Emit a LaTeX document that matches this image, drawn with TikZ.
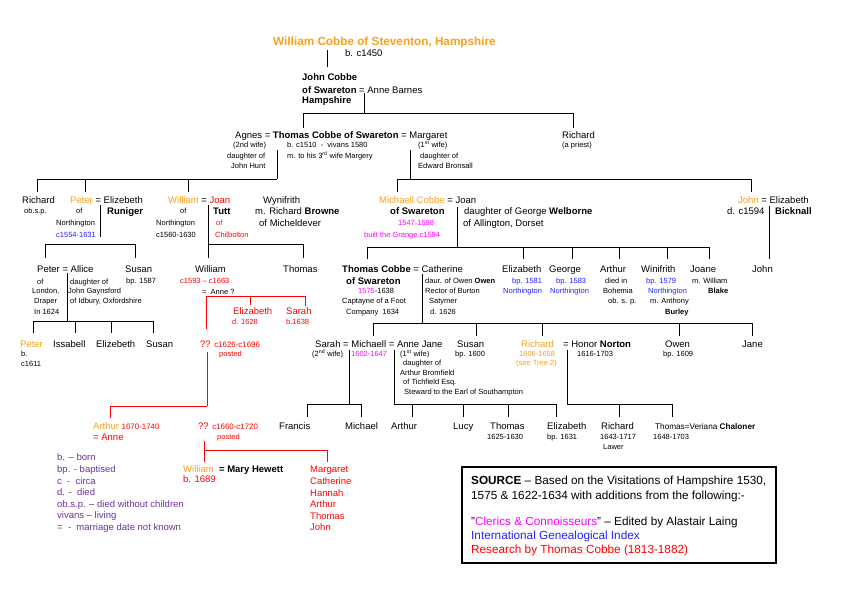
\documentclass[tikz,border=0pt]{standalone}
\usepackage{fontspec}
\setmainfont{Liberation Sans}
\definecolor{orng}{HTML}{F9A11B}
\definecolor{mag}{HTML}{FF00FF}
\definecolor{blu}{HTML}{2222FF}
\definecolor{rd}{HTML}{FF0000}
\definecolor{purp}{HTML}{7030A0}
\tikzset{
 mainT/.style={anchor=base west,inner sep=0pt,font=\fontsize{9.5}{11}\selectfont},
 smallT/.style={anchor=base west,inner sep=0pt,font=\fontsize{7.5}{9}\selectfont},
 srcT/.style={anchor=base west,inner sep=0pt,font=\fontsize{11.75}{13}\selectfont},
 ln/.style={line width=0.8pt,black},
 rln/.style={line width=0.8pt,rd}}
\newcommand\TxM[4]{\node[mainT] (#1) at (#2,#3+3.5) {#4};}
\newcommand\TxS[4]{\node[smallT] (#1) at (#2,#3+2.7) {#4};}
\newcommand\TxR[4]{\node[srcT] (#1) at (#2,#3+4.2) {#4};}
\newcommand\Ln[4][ln]{\coordinate (#2a) at (#3);\coordinate (#2b) at (#4);\draw[#1] (#2a) -- (#2b);}
\newcommand\yrs{\fontsize{7.9}{9}\selectfont}
\begin{document}
\begin{tikzpicture}[x=1pt,y=-1pt]
\fill[white] (0,0) rectangle (842,595);
\useasboundingbox (0,0) rectangle (842,595);
% ---------- top
\node[anchor=base west,inner sep=0pt,font=\fontsize{11.75}{13}\selectfont\bfseries,text=orng] (title) at (273,45.2) {William Cobbe of Steventon, Hampshire};
\TxM{b1450}{345}{53}{b. c1450}
\TxM{jc1}{302}{77}{\bfseries John Cobbe}
\TxM{jc2}{302}{90}{\textbf{of Swareton} = Anne Barnes}
\TxM{jc3}{302}{100}{\bfseries Hampshire}
% ---------- row 2
\TxM{r2}{235}{135}{Agnes = \textbf{Thomas Cobbe of Swareton} = Margaret}
\TxS{ag1}{233}{145}{(2nd wife)}
\TxS{ag2}{227}{156}{daughter of}
\TxS{ag3}{231}{166}{John Hunt}
\TxS{th1}{287}{145}{b. c1510 \ - \ vivans 1580}
\TxS{th2}{287}{156}{m. to his 3\textsuperscript{rd} wife Margery}
\TxS{mg1}{418}{145}{(1\textsuperscript{st} wife)}
\TxS{mg2}{420}{156}{daughter of}
\TxS{mg3}{418}{166}{Edward Bronsall}
\TxM{rp1}{562}{135}{Richard}
\TxS{rp2}{562}{145}{(a priest)}
% ---------- row 3
\TxM{ri1}{22}{200}{Richard}
\TxS{ri2}{24}{211}{ob.s.p.}
\TxM{pe1}{70}{200}{\textcolor{orng}{Peter} = Elizebeth}
\TxS{pe2}{76}{211}{of}
\TxS{pe3}{56}{223}{Northington}
\TxS{pe4}{56}{235}{\textcolor{blu}{c1554-1631}}
\TxM{pe5}{107}{211}{\bfseries Runiger}
\TxM{wi1}{168}{200}{\textcolor{orng}{William} = \textcolor{rd}{Joan}}
\TxS{wi2}{180}{211}{of}
\TxS{wi3}{156}{223}{Northington}
\TxS{wi4}{156}{235}{c1560-1630}
\TxM{wi5}{213}{211}{\bfseries Tutt}
\TxS{wi6}{216}{223}{\textcolor{rd}{of}}
\TxS{wi7}{215}{235}{\textcolor{rd}{Chilbolton}}
\TxM{wy1}{263}{200}{Wynifrith}
\TxM{wy2}{255}{211}{m. Richard \textbf{Browne}}
\TxM{wy3}{259}{223}{of Micheldever}
\TxM{mi1}{379}{200}{\textcolor{orng}{Michaell Cobbe} = Joan}
\TxM{mi2}{390}{211}{\bfseries of Swareton}
\TxS{mi3}{398}{223}{\textcolor{mag}{1547-1598}}
\TxS{mi4}{364}{235}{\textcolor{mag}{built the Grange c1594}}
\TxM{jw1}{464}{211}{daughter of George \textbf{Welborne}}
\TxM{jw2}{463}{223}{of Allington, Dorset}
\TxM{jo1}{738}{200}{\textcolor{orng}{John} = Elizabeth}
\TxM{jo2}{727}{211}{d. c1594}
\TxM{jo3}{775}{211}{\bfseries Bicknall}
% ---------- row 4
\TxM{pa1}{37}{269}{Peter = Allice}
\TxS{pa2}{37}{282}{of}
\TxS{pa3}{32}{291}{London,}
\TxS{pa4}{34}{301}{Draper}
\TxS{pa5}{34}{312}{In 1624}
\TxS{pa6}{70}{282}{daughter of}
\TxS{pa7}{68}{291}{John Gaynsford}
\TxS{pa8}{70}{301}{of Idbury, Oxfordshire}
\TxM{su1}{125}{269}{Susan}
\TxS{su2}{126}{281}{bp. 1587}
\TxM{wa1}{195}{269}{William}
\TxS{wa2}{180}{281}{\textcolor{rd}{c1593 – c1663}}
\TxS{wa3}{202}{292}{= \ Anne ?}
\TxM{th3}{283}{269}{Thomas}
\TxM{el1}{233}{311}{\textcolor{rd}{Elizabeth}}
\TxS{el2}{232}{322}{\textcolor{rd}{d. 1628}}
\TxM{sa1}{286}{311}{\textcolor{rd}{Sarah}}
\TxS{sa2}{286}{322}{\textcolor{rd}{b.1638}}
\TxM{tc1}{342}{269}{\textbf{Thomas Cobbe} = Catherine}
\TxM{tc2}{346}{281}{\bfseries of Swareton}
\TxS{tc3}{358}{291}{\textcolor{mag}{1575}-1638}
\TxS{tc4}{342}{301}{Captayne of a Foot}
\TxS{tc5}{346}{312}{Company \ 1634}
\TxS{ca1}{425}{281}{daur. of Owen \textbf{Owen}}
\TxS{ca2}{425}{291}{Rector of Burton}
\TxS{ca3}{429}{301}{Satymer}
\TxS{ca4}{430}{312}{d. 1626}
\TxM{e81}{502}{269}{Elizabeth}
\TxS{e82}{512}{281}{\textcolor{blu}{bp. 1581}}
\TxS{e83}{503}{291}{\textcolor{blu}{Northington}}
\TxM{ge1}{549}{269}{George}
\TxS{ge2}{556}{281}{\textcolor{blu}{bp. 1583}}
\TxS{ge3}{550}{291}{\textcolor{blu}{Northington}}
\TxM{ar1}{600}{269}{Arthur}
\TxS{ar2}{605}{281}{died in}
\TxS{ar3}{603}{291}{Bohemia}
\TxS{ar4}{608}{301}{ob. s. p.}
\TxM{wn1}{641}{269}{Winifrith}
\TxS{wn2}{646}{281}{\textcolor{blu}{bp. 1579}}
\TxS{wn3}{648}{291}{\textcolor{blu}{Northington}}
\TxS{wn4}{650}{301}{m. Anthony}
\TxS{wn5}{665}{312}{\bfseries Burley}
\TxM{jn1}{690}{269}{Joane}
\TxS{jn2}{692}{281}{m. William}
\TxS{jn3}{708}{291}{\bfseries Blake}
\TxM{jh1}{752}{269}{John}
% ---------- row 5
\TxM{pt1}{20}{344}{\textcolor{orng}{Peter}}
\TxS{pt2}{21}{354}{b.}
\TxS{pt3}{21}{364}{c1611}
\TxM{is1}{53}{344}{Issabell}
\TxM{ez1}{96}{344}{Elizebeth}
\TxM{sn1}{146}{344}{Susan}
\TxM{qq1}{200}{344}{\color{rd}?? {\yrs c1626-c1696}}
\TxS{qq2}{219}{354}{\textcolor{rd}{posted}}
\TxM{sm1}{315}{344}{Sarah = Michaell = Anne Jane}
\TxS{sm2}{312}{354}{(2\textsuperscript{nd} wife)}
\TxS{sm3}{351}{354}{\textcolor{mag}{1602-1647}}
\TxS{aj1}{400}{354}{(1\textsuperscript{st} wife)}
\TxS{aj2}{403}{363}{daughter of}
\TxS{aj3}{400}{373}{Arthur Bromfield}
\TxS{aj4}{403}{382}{of Tichfield Esq.}
\TxS{aj5}{404}{392}{Steward to the Earl of Southampton}
\TxM{sb1}{457}{344}{Susan}
\TxS{sb2}{455}{354}{bp. 1600}
\TxM{rc1}{521}{344}{\textcolor{orng}{Richard}}
\TxS{rc2}{519}{354}{\textcolor{orng}{1606-1658}}
\TxS{rc3}{516}{363}{\textcolor{orng}{(see Tree 2)}}
\TxM{hn1}{563}{344}{= Honor \textbf{Norton}}
\TxS{hn2}{577}{354}{1616-1703}
\TxM{ow1}{665}{344}{Owen}
\TxS{ow2}{663}{354}{bp. 1609}
\TxM{ja1}{742}{344}{Jane}
% ---------- row 6
\TxM{at1}{93}{426}{\textcolor{orng}{Arthur} \textcolor{rd}{\yrs 1670-1740}}
\TxM{at2}{93}{437}{\textcolor{rd}{= Anne}}
\TxM{qb1}{198}{426}{\color{rd}?? {\yrs c1660-c1720}}
\TxS{qb2}{217}{437}{\textcolor{rd}{posted}}
\TxM{fr1}{279}{426}{Francis}
\TxM{mc1}{345}{426}{Michael}
\TxM{ab1}{391}{426}{Arthur}
\TxM{lu1}{453}{426}{Lucy}
\TxM{tt1}{490}{426}{Thomas}
\TxS{tt2}{487}{437}{1625-1630}
\TxM{eb1}{547}{426}{Elizabeth}
\TxS{eb2}{547}{437}{bp. 1631}
\TxM{rr1}{601}{426}{Richard}
\TxS{rr2}{600}{437}{1643-1717}
\TxS{rr3}{603}{447}{Lawer}
\TxM{tv1}{655}{426}{\fontsize{8.2}{10}\selectfont Thomas=Veriana \textbf{Chaloner}}
\TxS{tv2}{653}{437}{1648-1703}
% ---------- row 7
\TxM{wm1}{183}{469}{\textcolor{orng}{William} \ \textbf{= Mary Hewett}}
\TxM{wm2}{183}{479}{\textcolor{rd}{b. 1689}}
\TxM{rl1}{310}{469}{\textcolor{rd}{Margaret}}
\TxM{rl2}{310}{481}{\textcolor{rd}{Catherine}}
\TxM{rl3}{310}{493}{\textcolor{rd}{Hannah}}
\TxM{rl4}{310}{504}{\textcolor{rd}{Arthur}}
\TxM{rl5}{310}{516}{\textcolor{rd}{Thomas}}
\TxM{rl6}{310}{527}{\textcolor{rd}{John}}
% ---------- legend
\TxM{lg1}{57}{457}{\textcolor{purp}{b. – born}}
\TxM{lg2}{57}{469}{\textcolor{purp}{bp. - baptised}}
\TxM{lg3}{57}{481}{\textcolor{purp}{c \ - \ circa}}
\TxM{lg4}{57}{492}{\textcolor{purp}{d. - \ died}}
\TxM{lg5}{57}{504}{\textcolor{purp}{ob.s.p. – died without children}}
\TxM{lg6}{57}{515}{\textcolor{purp}{vivans – living}}
\TxM{lg7}{57}{527}{\textcolor{purp}{= \ - \ marriage date not known}}
% ---------- source box
\coordinate (boxa) at (462,467);
\coordinate (boxb) at (776,563);
\draw[line width=1.3pt] (boxa) rectangle (boxb);
\TxR{sr1}{471}{480}{\textbf{SOURCE} – Based on the Visitations of Hampshire 1530,}
\TxR{sr2}{471}{495}{1575 \& 1622-1634 with additions from the following:-}
\TxR{sr3}{471}{521}{"\textcolor{mag}{Clerics \& Connoisseurs}" – Edited by Alastair Laing}
\TxR{sr4}{471}{535}{\textcolor{blu}{International Genealogical Index}}
\TxR{sr5}{471}{549}{\textcolor{rd}{Research by Thomas Cobbe (1813-1882)}}
% ---------- black lines
\Ln{l1}{327,50}{327,67}
\Ln{l2}{364,93}{364,113}
\Ln{l3}{303,113}{573,113}
\Ln{l4}{303,113}{303,128}
\Ln{l5}{573,113}{573,128}
\Ln{l6}{277,150}{277,179}
\Ln{l7}{37,179}{277,179}
\Ln{l8}{37,179}{37,192}
\Ln{l9}{85,179}{85,192}
\Ln{l10}{188,179}{188,192}
\Ln{l11}{410,150}{410,179}
\Ln{l12}{397,179}{751,179}
\Ln{l13}{397,179}{397,192}
\Ln{l14}{751,179}{751,192}
\Ln{l15}{100,205}{100,237}
\Ln{l16}{45,244}{135,244}
\Ln{l17}{45,244}{45,258}
\Ln{l18}{135,244}{135,258}
\Ln{l19}{208,205}{208,258}
\Ln{l20}{208,244}{303,244}
\Ln{l21}{303,244}{303,258}
\Ln{l22}{457,207}{457,247}
\Ln{l23}{367,247}{709,247}
\Ln{l24}{367,247}{367,259}
\Ln{l25}{523,247}{523,259}
\Ln{l26}{572,247}{572,259}
\Ln{l27}{619,247}{619,259}
\Ln{l28}{667,247}{667,259}
\Ln{l29}{709,247}{709,259}
\Ln{l30}{769,206}{769,259}
\Ln{l31}{67,273}{67,321}
\Ln{l32}{33,321}{153,321}
\Ln{l33}{33,321}{33,333}
\Ln{l34}{75,321}{75,333}
\Ln{l35}{111,321}{111,333}
\Ln{l36}{153,321}{153,333}
\Ln{l37}{422,274}{422,323}
\Ln{l38}{373,323}{752,323}
\Ln{l39}{373,323}{373,336}
\Ln{l40}{476,323}{476,336}
\Ln{l41}{542,323}{542,336}
\Ln{l42}{679,323}{679,336}
\Ln{l43}{752,323}{752,336}
\Ln{l44}{349,350}{349,404}
\Ln{l45}{307,404}{361,404}
\Ln{l46}{307,404}{307,417}
\Ln{l47}{361,404}{361,417}
\Ln{l48}{394,350}{394,404}
\Ln{l49}{394,404}{556,404}
\Ln{l50}{412,404}{412,417}
\Ln{l51}{463,404}{463,417}
\Ln{l52}{508,404}{508,417}
\Ln{l53}{556,404}{556,417}
\Ln{l54}{567,350}{567,404}
\Ln{l55}{567,404}{672,404}
\Ln{l56}{619,404}{619,417}
\Ln{l57}{672,404}{672,417}
% ---------- red lines
\Ln[rln]{r1}{206,296}{305,296}
\Ln[rln]{r2}{206,296}{206,329}
\Ln[rln]{r3}{250,296}{250,305}
\Ln[rln]{r4}{305,296}{305,306}
\Ln[rln]{r5}{207,352}{207,406}
\Ln[rln]{r6}{110,406}{207,406}
\Ln[rln]{r7}{110,406}{110,418}
\Ln[rln]{r8}{204,441}{204,462}
\Ln[rln]{r9}{204,450}{327,450}
\Ln[rln]{r10}{327,450}{327,462}
\end{tikzpicture}
\end{document}
